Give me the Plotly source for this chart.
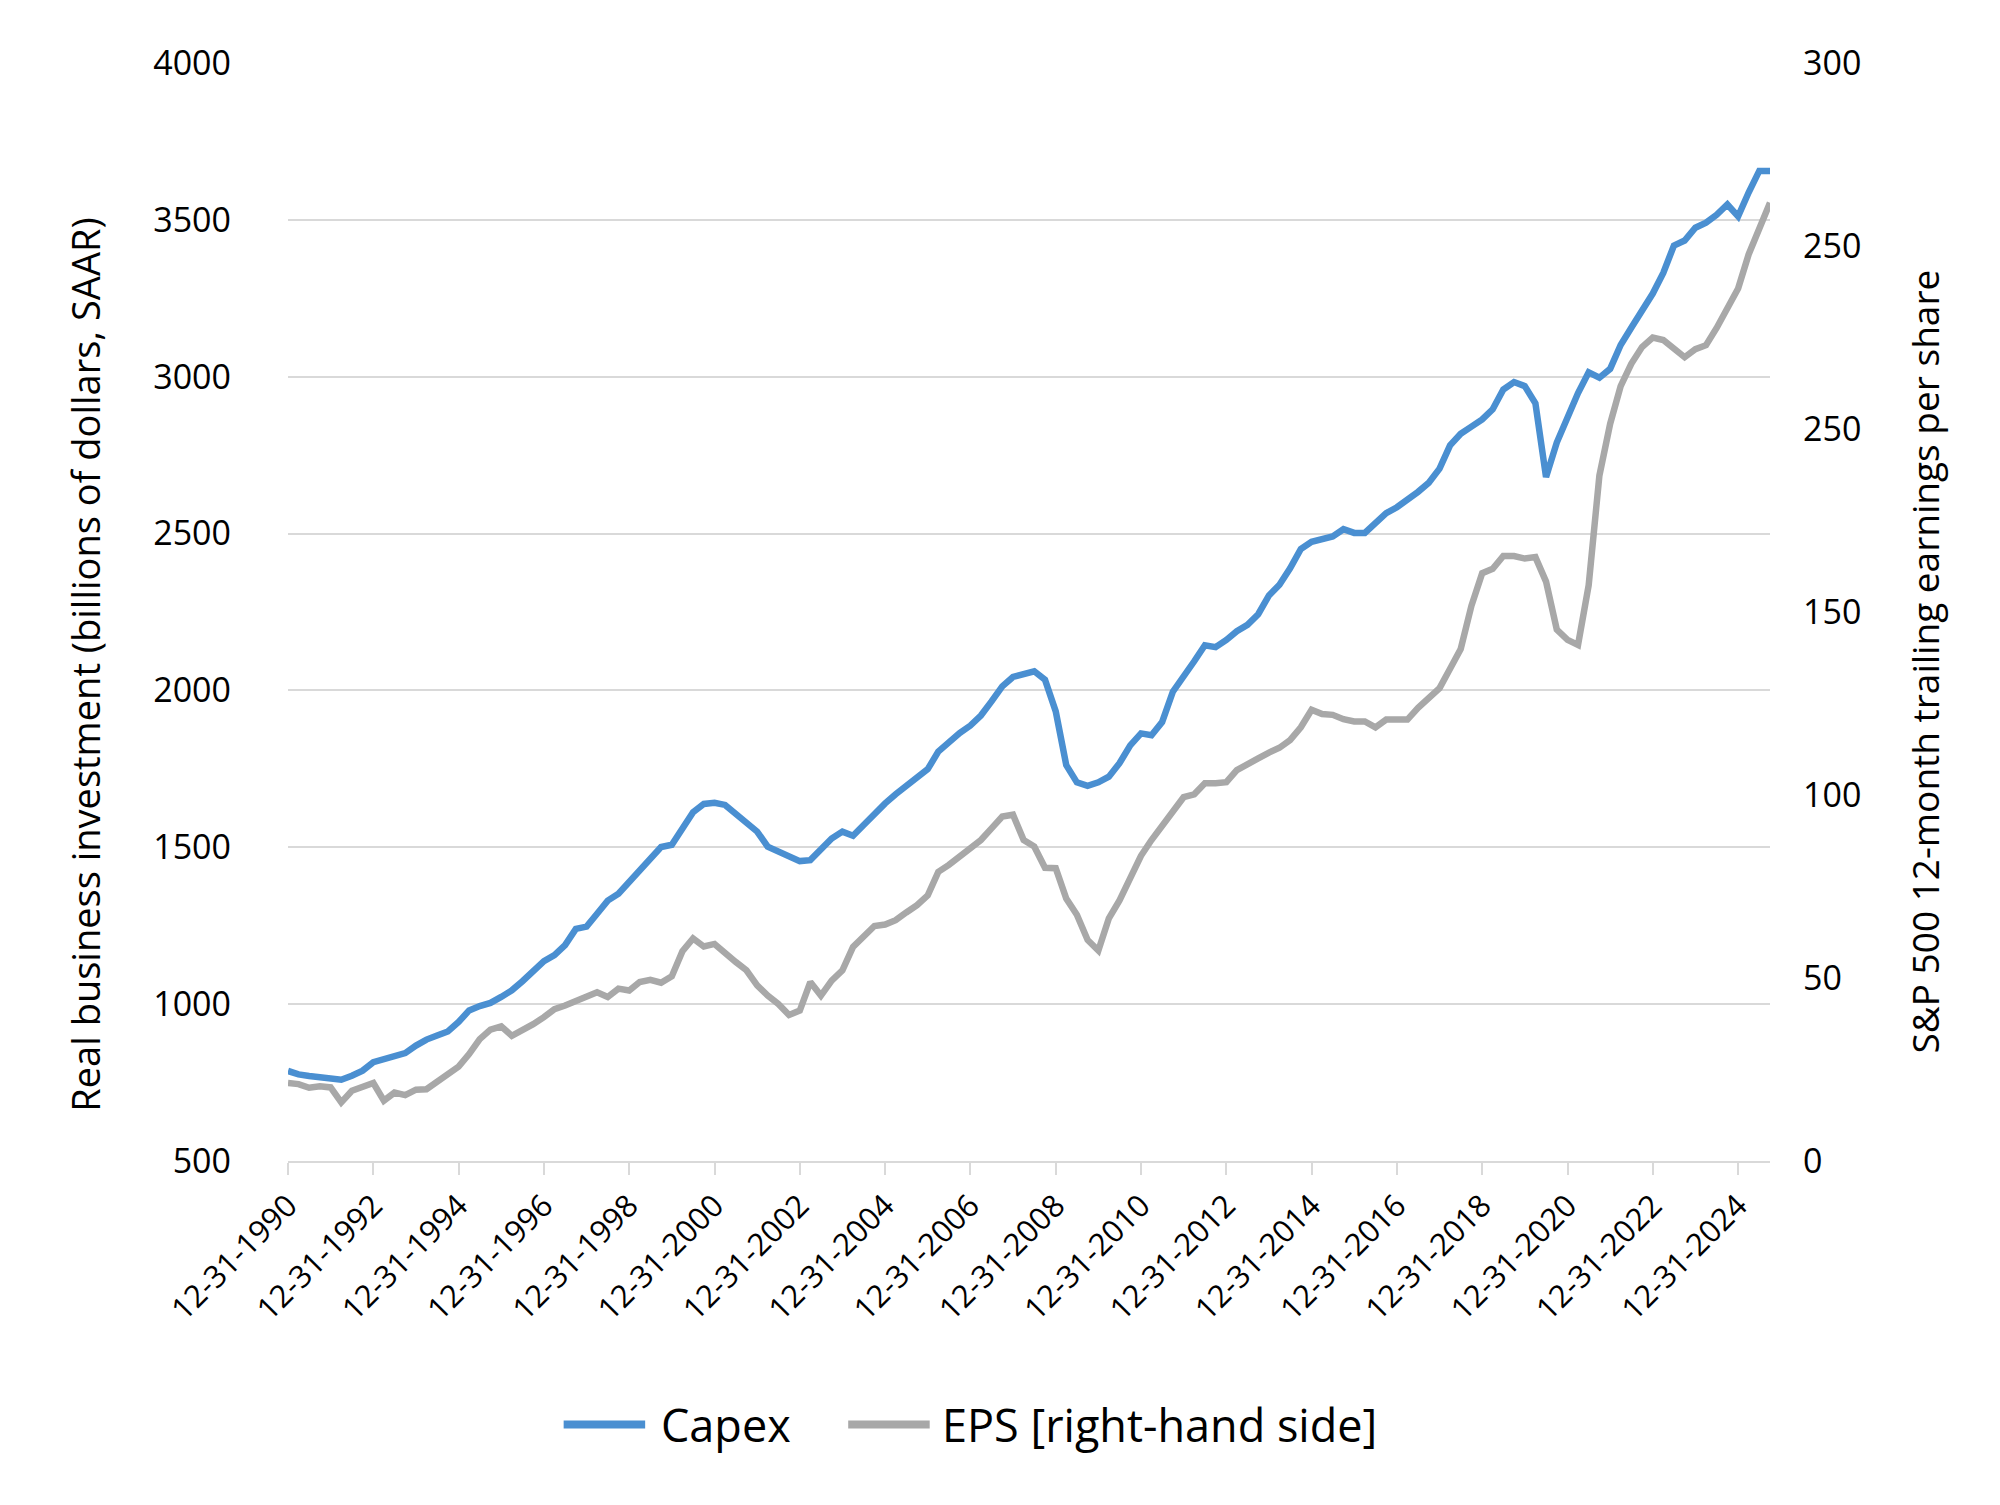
import pandas as pd
import plotly.graph_objects as go

# quarterly values, 1990Q4 .. 2025Q3 (grouped by calendar year)
capex = [
    787,
    776, 771, 766, 761,
    759, 772, 788, 815,
    826, 836, 844, 868,
    887, 900, 913, 943,
    980, 994, 1004, 1023,
    1044, 1073, 1108, 1137,
    1156, 1188, 1240, 1247,
    1288, 1330, 1352, 1389,
    1421, 1464, 1501, 1508,
    1556, 1612, 1638, 1642,
    1635, 1605, 1580, 1550,
    1502, 1486, 1475, 1456,
    1459, 1497, 1528, 1550,
    1537, 1571, 1608, 1640,
    1669, 1696, 1722, 1749,
    1805, 1837, 1864, 1888,
    1920, 1965, 2013, 2043,
    2052, 2061, 2034, 1933,
    1762, 1707, 1696, 1707,
    1725, 1768, 1825, 1863,
    1857, 1899, 1996, 2042,
    2093, 2144, 2138, 2161,
    2189, 2209, 2243, 2303,
    2337, 2389, 2451, 2474,
    2482, 2491, 2514, 2502,
    2502, 2531, 2565, 2584,
    2607, 2633, 2662, 2707,
    2781, 2818, 2841, 2864,
    2896, 2959, 2983, 2970,
    2915, 2680, 2790, 2877,
    2948, 3014, 2997, 3025,
    3101, 3156, 3210, 3265,
    3331, 3418, 3434, 3475,
    3491, 3516, 3549, 3511,
    3587, 3656, 3656,
]

eps = [
    21.3,
    21.0, 20.0, 20.4, 20.1,
    16.0, 19.2, 20.4, 21.3,
    16.5, 18.7, 18.0, 19.5,
    19.6, 21.5, 23.5, 25.8,
    29.2, 33.3, 35.9, 36.8,
    34.2, 35.6, 37.4, 39.3,
    41.5, 42.5, 43.6, 44.8,
    46.1, 44.8, 47.1, 46.6,
    48.9, 49.5, 48.7, 50.5,
    57.3, 60.8, 58.6, 59.3,
    56.7, 54.4, 52.1, 48.0,
    45.2, 42.9, 39.9, 41.1,
    48.9, 45.2, 49.3, 52.1,
    58.5, 61.2, 64.2, 64.6,
    65.8, 67.9, 69.9, 72.6,
    79.0, 80.9, 83.1, 85.0,
    87.7, 90.9, 94.1, 94.6,
    87.7, 85.9, 80.1, 80.0,
    71.7, 67.3, 60.4, 57.5,
    66.3, 71.2, 77.0, 83.4,
    87.7, 91.6, 96.0, 99.4,
    100.2, 103.2, 103.2, 103.5,
    106.8, 108.2, 110.0, 111.6,
    112.9, 115.0, 118.5, 123.3,
    122.1, 121.9, 120.7, 120.1,
    120.1, 118.5, 120.6, 120.6,
    120.6, 123.8, 126.7, 129.2,
    134.5, 139.9, 151.7, 160.6,
    161.8, 165.3, 165.3, 164.6,
    165.0, 158.3, 145.2, 142.4,
    141.0, 157.3, 187.3, 201.4,
    211.7, 217.8, 222.4, 225.0,
    224.3, 222.0, 219.6, 221.8,
    222.9, 227.6, 232.7, 238.4,
    247.7, 254.8, 261.8,
]

dates = pd.date_range("1990-12-31", periods=len(capex), freq="QE-DEC")

tick_years = list(range(1990, 2025, 2))
tick_vals = ["%d-12-31" % y for y in tick_years]
tick_text = ["12-31-%d" % y for y in tick_years]

left_vals = [500, 1000, 1500, 2000, 2500, 3000, 3500, 4000]
right_vals = [0, 50, 100, 150, 200, 250, 300]
right_text = ["0", "50", "100", "150", "250", "250", "300"]

BLUE = "#4A8FD1"
GREY = "#A8A8A8"
GRID = "#D9D9D9"
FONT = "Open Sans"

fig = go.Figure()
fig.add_trace(go.Scatter(x=dates, y=capex, name="Capex", mode="lines",
                         line=dict(color=BLUE, width=6.5), showlegend=False))
fig.add_trace(go.Scatter(x=dates, y=eps, name="EPS [right-hand side]", mode="lines",
                         line=dict(color=GREY, width=6.5), yaxis="y2", showlegend=False))

fig.update_layout(
    width=2000, height=1505,
    margin=dict(l=280, r=238, t=55, b=352),
    paper_bgcolor="white", plot_bgcolor="white",
    font=dict(family=FONT, color="black"),
    xaxis=dict(type="date", range=[dates[0], dates[-1]],
               tickvals=tick_vals, ticktext=tick_text, tickangle=-45,
               tickfont=dict(size=31), ticks="outside", ticklen=12,
               tickwidth=2, tickcolor=GRID, showline=True, linecolor=GRID,
               linewidth=2, showgrid=False, zeroline=False),
    yaxis=dict(range=[500, 4000], tickvals=left_vals, showgrid=True,
               gridcolor=GRID, gridwidth=2, zeroline=False, showline=False,
               tickfont=dict(size=34), ticklabelstandoff=56),
    yaxis2=dict(range=[0, 300], tickvals=right_vals, ticktext=right_text,
                overlaying="y", side="right", showgrid=False, zeroline=False,
                showline=False, tickfont=dict(size=34), ticklabelstandoff=32),
)

# axis titles
fig.add_annotation(text="Real business investment (billions of dollars, SAAR)",
                   xref="paper", yref="paper", x=-0.137, y=0.452, textangle=-90,
                   showarrow=False, font=dict(size=38), xanchor="center", yanchor="middle")
fig.add_annotation(text="S&amp;P 500 12-month trailing earnings per share",
                   xref="paper", yref="paper", x=1.104, y=0.455, textangle=-90,
                   showarrow=False, font=dict(size=37), xanchor="center", yanchor="middle")

# legend drawn below the chart
legend_y = -0.240
for x0, x1, tx, color, label in [(0.186, 0.241, 0.250, BLUE, "Capex"),
                                 (0.378, 0.433, 0.440, GREY, "EPS [right-hand side]")]:
    fig.add_shape(type="line", xref="paper", yref="paper", x0=x0, x1=x1,
                  y0=legend_y, y1=legend_y, line=dict(color=color, width=8))
    fig.add_annotation(text=label, xref="paper", yref="paper", x=tx, y=legend_y,
                       showarrow=False, xanchor="left", yanchor="middle",
                       font=dict(size=45))

fig.write_html("out.html")
